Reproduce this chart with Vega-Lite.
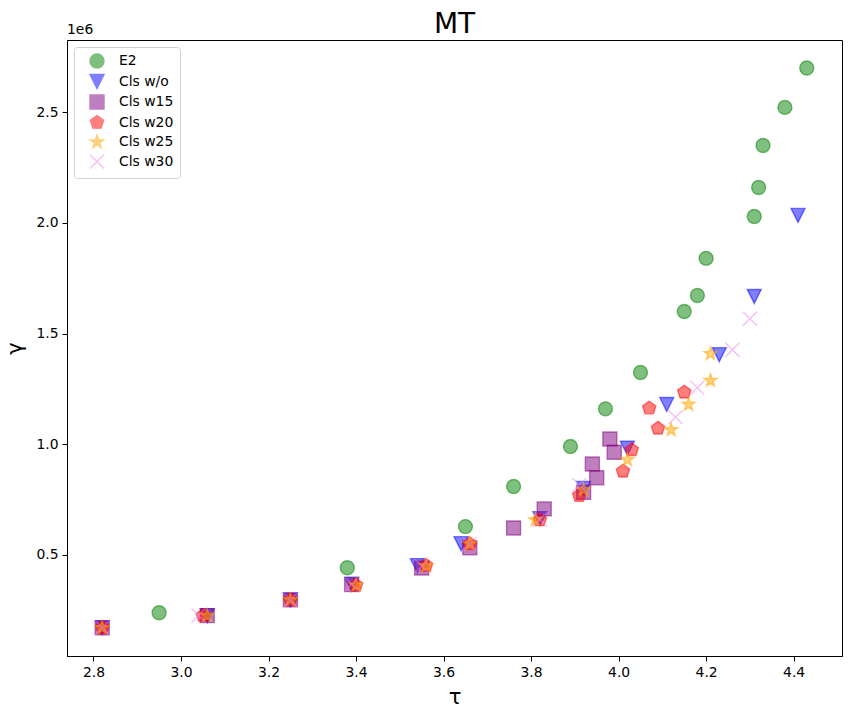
{
  "$schema": "https://vega.github.io/schema/vega-lite/v6.json",
  "width": 775,
  "height": 616,
  "autosize": {"type": "none"},
  "padding": {"left": 67, "top": 40, "right": 10, "bottom": 59},
  "background": "white",
  "config": {
    "font": "DejaVu Sans",
    "view": {"stroke": "black", "strokeWidth": 1},
    "axis": {
      "grid": false, "domainColor": "black", "tickColor": "black", "tickSize": 5,
      "labelPadding": 4, "labelFontSize": 13.9, "labelColor": "black",
      "titleFontSize": 21, "titleFontWeight": "normal", "titleColor": "black",
      "labelFont": "DejaVu Sans", "titleFont": "DejaVu Sans"
    }
  },
  "title": {"text": "MT", "fontSize": 28, "fontWeight": "normal", "offset": 6, "dy": 22, "color": "black", "font": "DejaVu Sans"},
  "layer": [
    {
      "data": {"values": [
        {"m": "E2", "x": 2.95, "y": 239000},
        {"m": "E2", "x": 3.38, "y": 442000},
        {"m": "E2", "x": 3.65, "y": 628000},
        {"m": "E2", "x": 3.76, "y": 809000},
        {"m": "E2", "x": 3.89, "y": 990000},
        {"m": "E2", "x": 3.97, "y": 1160000},
        {"m": "E2", "x": 4.05, "y": 1324000},
        {"m": "E2", "x": 4.15, "y": 1600000},
        {"m": "E2", "x": 4.18, "y": 1672000},
        {"m": "E2", "x": 4.20, "y": 1840000},
        {"m": "E2", "x": 4.31, "y": 2029000},
        {"m": "E2", "x": 4.32, "y": 2160000},
        {"m": "E2", "x": 4.33, "y": 2350000},
        {"m": "E2", "x": 4.38, "y": 2522000},
        {"m": "E2", "x": 4.43, "y": 2700000},
        {"m": "Cls w/o", "x": 2.82, "y": 171000},
        {"m": "Cls w/o", "x": 3.06, "y": 226000},
        {"m": "Cls w/o", "x": 3.25, "y": 297000},
        {"m": "Cls w/o", "x": 3.39, "y": 368000},
        {"m": "Cls w/o", "x": 3.54, "y": 452000},
        {"m": "Cls w/o", "x": 3.64, "y": 551000},
        {"m": "Cls w/o", "x": 3.82, "y": 664000},
        {"m": "Cls w/o", "x": 3.92, "y": 800000},
        {"m": "Cls w/o", "x": 4.02, "y": 982000},
        {"m": "Cls w/o", "x": 4.11, "y": 1180000},
        {"m": "Cls w/o", "x": 4.23, "y": 1405000},
        {"m": "Cls w/o", "x": 4.31, "y": 1668000},
        {"m": "Cls w/o", "x": 4.41, "y": 2034000},
        {"m": "Cls w15", "x": 2.82, "y": 171000},
        {"m": "Cls w15", "x": 3.06, "y": 226000},
        {"m": "Cls w15", "x": 3.25, "y": 297000},
        {"m": "Cls w15", "x": 3.39, "y": 366000},
        {"m": "Cls w15", "x": 3.55, "y": 441000},
        {"m": "Cls w15", "x": 3.66, "y": 532000},
        {"m": "Cls w15", "x": 3.76, "y": 622000},
        {"m": "Cls w15", "x": 3.83, "y": 708000},
        {"m": "Cls w15", "x": 3.92, "y": 783000},
        {"m": "Cls w15", "x": 3.94, "y": 911000},
        {"m": "Cls w15", "x": 3.95, "y": 849000},
        {"m": "Cls w15", "x": 3.98, "y": 1024000},
        {"m": "Cls w15", "x": 3.99, "y": 964000},
        {"m": "Cls w20", "x": 2.82, "y": 171000},
        {"m": "Cls w20", "x": 3.05, "y": 226000},
        {"m": "Cls w20", "x": 3.25, "y": 297000},
        {"m": "Cls w20", "x": 3.40, "y": 363000},
        {"m": "Cls w20", "x": 3.56, "y": 452000},
        {"m": "Cls w20", "x": 3.66, "y": 550000},
        {"m": "Cls w20", "x": 3.82, "y": 658000},
        {"m": "Cls w20", "x": 3.91, "y": 768000},
        {"m": "Cls w20", "x": 4.01, "y": 878000},
        {"m": "Cls w20", "x": 4.03, "y": 975000},
        {"m": "Cls w20", "x": 4.09, "y": 1072000},
        {"m": "Cls w20", "x": 4.07, "y": 1163000},
        {"m": "Cls w20", "x": 4.15, "y": 1235000},
        {"m": "Cls w25", "x": 2.82, "y": 171000},
        {"m": "Cls w25", "x": 3.06, "y": 226000},
        {"m": "Cls w25", "x": 3.25, "y": 297000},
        {"m": "Cls w25", "x": 3.40, "y": 363000},
        {"m": "Cls w25", "x": 3.56, "y": 450000},
        {"m": "Cls w25", "x": 3.66, "y": 550000},
        {"m": "Cls w25", "x": 3.81, "y": 658000},
        {"m": "Cls w25", "x": 3.92, "y": 794000},
        {"m": "Cls w25", "x": 4.02, "y": 930000},
        {"m": "Cls w25", "x": 4.12, "y": 1065000},
        {"m": "Cls w25", "x": 4.16, "y": 1180000},
        {"m": "Cls w25", "x": 4.21, "y": 1288000},
        {"m": "Cls w25", "x": 4.21, "y": 1409000},
        {"m": "Cls w30", "x": 2.82, "y": 171000},
        {"m": "Cls w30", "x": 3.04, "y": 226000},
        {"m": "Cls w30", "x": 3.25, "y": 297000},
        {"m": "Cls w30", "x": 3.39, "y": 368000},
        {"m": "Cls w30", "x": 3.55, "y": 450000},
        {"m": "Cls w30", "x": 3.66, "y": 550000},
        {"m": "Cls w30", "x": 3.82, "y": 660000},
        {"m": "Cls w30", "x": 3.91, "y": 816000},
        {"m": "Cls w30", "x": 4.13, "y": 1122000},
        {"m": "Cls w30", "x": 4.18, "y": 1255000},
        {"m": "Cls w30", "x": 4.26, "y": 1427000},
        {"m": "Cls w30", "x": 4.30, "y": 1567000}
      ]},
      "mark": {"type": "point", "filled": true, "size": 196, "fillOpacity": 0.5, "strokeOpacity": 0.5, "strokeWidth": 1.4},
      "encoding": {
        "x": {"field": "x", "type": "quantitative",
              "scale": {"domain": [2.7395, 4.5105], "nice": false, "zero": false},
              "axis": {"title": "τ", "values": [2.8, 3.0, 3.2, 3.4, 3.6, 3.8, 4.0, 4.2, 4.4], "format": ".1f", "titlePadding": 8}},
        "y": {"field": "y", "type": "quantitative",
              "scale": {"domain": [43500, 2826500], "nice": false, "zero": false},
              "axis": {"title": "γ", "values": [500000, 1000000, 1500000, 2000000, 2500000], "labelExpr": "format(datum.value/1000000, '.1f')", "titlePadding": 10}},
        "color": {"field": "m", "type": "nominal",
                  "scale": {"domain": ["E2", "Cls w/o", "Cls w15", "Cls w20", "Cls w25", "Cls w30"],
                            "range": ["#008000", "#0000ff", "#800080", "#ff0000", "#ffa500", "#ee82ee"]},
                  "legend": {"orient": "top-left", "offset": 7, "title": null, "padding": 6, "symbolOffset": 9,
                             "labelFontSize": 13.9, "labelOffset": 14, "rowPadding": 0.5, "strokeColor": "#d0d0d0",
                             "fillColor": "rgba(255,255,255,0.8)", "cornerRadius": 3, "symbolSize": 196,
                             "labelColor": "black", "symbolOpacity": 0.5, "symbolStrokeWidth": 1.4}},
        "stroke": {"field": "m", "type": "nominal",
                   "scale": {"domain": ["E2", "Cls w/o", "Cls w15", "Cls w20", "Cls w25", "Cls w30"],
                             "range": ["#008000", "#0000ff", "#800080", "#ff0000", "#ffa500", "#ee82ee"]}},
        "shape": {"field": "m", "type": "nominal",
                  "scale": {"domain": ["E2", "Cls w/o", "Cls w15", "Cls w20", "Cls w25", "Cls w30"],
                            "range": ["circle", "M-1,-1L1,-1L0,1Z", "square",
                                      "M0,-1L0.951,-0.309L0.588,0.809L-0.588,0.809L-0.951,-0.309Z",
                                      "M0,-1L0.2245,-0.309L0.951,-0.309L0.3633,0.118L0.588,0.809L0,0.382L-0.588,0.809L-0.3633,0.118L-0.951,-0.309L-0.2245,-0.309Z",
                                      "M-1,-1L1,1M1,-1L-1,1"]}}
      }
    },
    {
      "data": {"values": [{"label": "1e6"}]},
      "mark": {"type": "text", "align": "left", "baseline": "bottom", "dy": -3, "fontSize": 13.9, "color": "black", "font": "DejaVu Sans"},
      "encoding": {
        "text": {"field": "label", "type": "nominal"},
        "x": {"datum": 2.7395, "type": "quantitative"},
        "y": {"datum": 2826500, "type": "quantitative"}
      }
    }
  ]
}
